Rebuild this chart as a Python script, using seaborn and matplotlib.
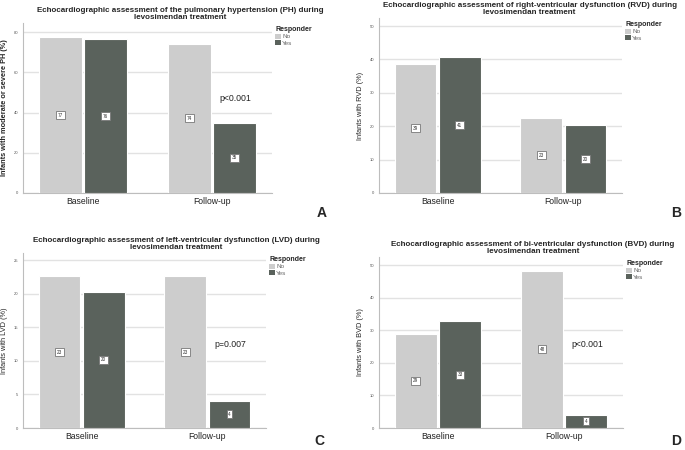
import matplotlib
matplotlib.use("Agg")
import matplotlib.pyplot as plt
import numpy as np
import pandas as pd
import seaborn as sns
from matplotlib.patches import Patch

# data
timepoints = ["Baseline", "Follow-up"]
responders = ["No", "Yes"]

ph_no = [77.4, 74.2]
ph_yes = [76.5, 34.8]
ph_labels = ["77", "76", "74", "35"]

rvd_no = [38.7, 22.6]
rvd_yes = [40.6, 20.3]
rvd_labels = ["39", "41", "23", "20"]

lvd_no = [22.6, 22.6]
lvd_yes = [20.3, 4.1]
lvd_labels = ["23", "20", "23", "4"]

bvd_no = [29.0, 48.4]
bvd_yes = [32.8, 4.1]
bvd_labels = ["29", "33", "48", "4"]

panels = [
    dict(no=ph_no, yes=ph_yes, labels=ph_labels, letter="A", lpos=(322, 213), tx=0.63,
         title="Echocardiographic assessment of the pulmonary hypertension (PH) during\nlevosimendan treatment",
         ylabel="Infants with moderate or severe PH (%)", ylim=84.5, step=20, p="p<0.001", py=47,
         rect=[23, 23, 272, 193], bold_y=True),
    dict(no=rvd_no, yes=rvd_yes, labels=rvd_labels, letter="B", lpos=(676, 213), tx=0.62,
         title="Echocardiographic assessment of right-ventricular dysfunction (RVD) during\nlevosimendan treatment",
         ylabel="Infants with RVD (%)", ylim=52.4, step=10, p=None, py=None,
         rect=[379, 18, 622, 193], bold_y=False),
    dict(no=lvd_no, yes=lvd_yes, labels=lvd_labels, letter="C", lpos=(319, 441), tx=0.63,
         title="Echocardiographic assessment of left-ventricular dysfunction (LVD) during\nlevosimendan treatment",
         ylabel="Infants with LVD (%)", ylim=26.1, step=5, p="p=0.007", py=12.5,
         rect=[23, 253, 266, 428], bold_y=False),
    dict(no=bvd_no, yes=bvd_yes, labels=bvd_labels, letter="D", lpos=(676, 441), tx=0.63,
         title="Echocardiographic assessment of bi-ventricular dysfunction (BVD) during\nlevosimendan treatment",
         ylabel="Infants with BVD (%)", ylim=52.6, step=10, p="p<0.001", py=25.7,
         rect=[379, 257, 623, 428], bold_y=False),
]

light = "#cdcdcd"
dark = "#5a625c"
W, H = 685, 450

sns.set_theme(style="white")
plt.rcParams["font.family"] = ["Liberation Sans", "DejaVu Sans"]

fig = plt.figure(figsize=(6.85, 4.5), dpi=100)

for pnl in panels:
    l, t, r, b = pnl["rect"]
    ax = fig.add_axes([l / W, 1 - b / H, (r - l) / W, (b - t) / H])

    df = pd.DataFrame({
        "time": timepoints * 2,
        "resp": ["No"] * 2 + ["Yes"] * 2,
        "value": pnl["no"] + pnl["yes"],
    })
    sns.barplot(data=df, x="time", y="value", hue="resp", order=timepoints,
                hue_order=responders, palette=[light, dark], width=0.7, gap=0.05,
                edgecolor="white", linewidth=0.8, saturation=1, legend=False,
                ax=ax, zorder=3)

    ax.set_xlim(-0.465, 1.465)
    ax.set_ylim(0, pnl["ylim"])
    ax.set_yticks(np.arange(0, pnl["ylim"], pnl["step"]))
    ax.grid(axis="y", color="#e2e2e2", linewidth=1.0, zorder=0)
    ax.set_axisbelow(True)
    for s in ["top", "right"]:
        ax.spines[s].set_visible(False)
    for s in ["left", "bottom"]:
        ax.spines[s].set_color("#bdbdbd")
        ax.spines[s].set_linewidth(0.8)
    ax.tick_params(axis="y", labelsize=3, colors="#555555", length=1.5, width=0.4, pad=2)
    ax.tick_params(axis="x", labelsize=6.2, length=0, pad=3)
    for lab in ax.get_xticklabels():
        lab.set_color("#222222")
    ax.set_xlabel("")
    ax.set_ylabel(pnl["ylabel"], fontsize=5.3,
                  fontweight="bold" if pnl["bold_y"] else "normal", labelpad=4)

    ax.set_title(pnl["title"], fontsize=5.8, fontweight="bold", x=pnl["tx"],
                 linespacing=0.95, pad=3)

    # value boxes in the middle of each bar
    bars = [p for p in ax.patches if p.get_height() > 0]
    bars = sorted(bars, key=lambda p: p.get_x())
    for bar, txt in zip(bars, pnl["labels"]):
        ax.text(bar.get_x() + bar.get_width() / 2, bar.get_height() / 2, txt,
                ha="center", va="center", fontsize=3.3, color="#333333", zorder=5,
                bbox=dict(boxstyle="square,pad=0.35", fc="white", ec="#777777", lw=0.6))

    if pnl["p"]:
        ax.text(1.18, pnl["py"], pnl["p"], ha="center", va="center", fontsize=6.3,
                color="#222222")

    handles = [Patch(facecolor=light, edgecolor="none", label="No"),
               Patch(facecolor=dark, edgecolor="none", label="Yes")]
    leg = ax.legend(handles=handles, title="Responder", loc="upper left",
                    bbox_to_anchor=(1.0, 1.0), frameon=False, fontsize=4.6,
                    title_fontsize=5, handlelength=0.9, handleheight=0.9,
                    handletextpad=0.2, labelspacing=0.05, borderaxespad=0.1)
    leg.get_title().set_fontweight("bold")
    leg._legend_box.align = "left"
    for txt in leg.get_texts():
        txt.set_color("#666666")

    lx, ly = pnl["lpos"]
    fig.text(lx / W, 1 - ly / H, pnl["letter"], fontsize=10,
             fontweight="bold", ha="center", va="center")

fig.savefig("out.png", dpi=100)
